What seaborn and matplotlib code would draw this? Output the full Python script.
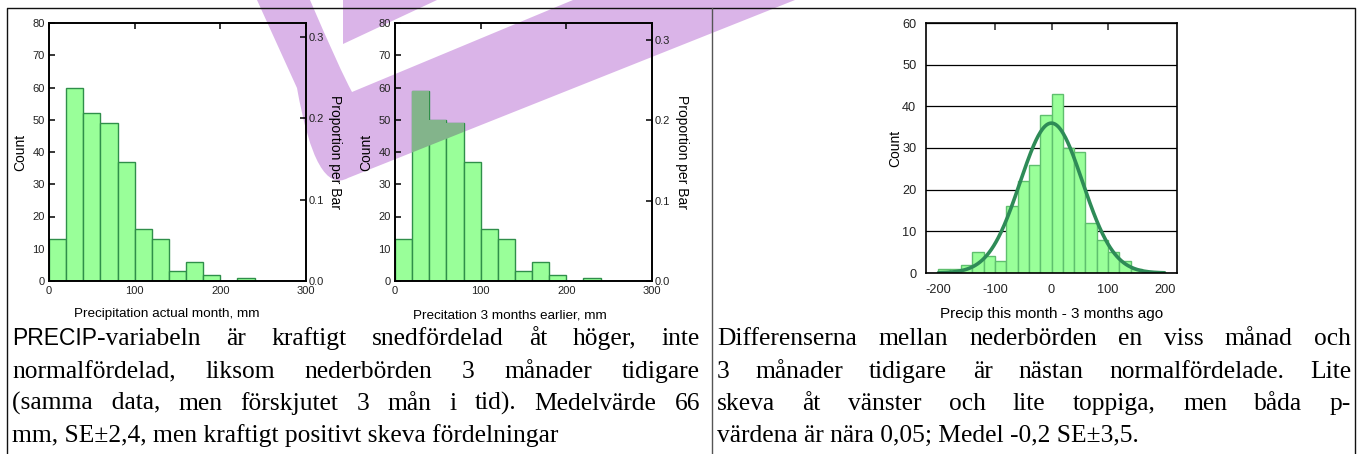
import numpy as np
import matplotlib
matplotlib.use("Agg")
import matplotlib.pyplot as plt
import seaborn as sns
from matplotlib.patches import PathPatch
from matplotlib.path import Path

# ---------------- data ----------------
precip_bin_edges = [0, 20, 40, 60, 80, 100, 120, 140, 160, 180, 200, 220, 240, 260, 280, 300]
precip_actual_counts = [13, 60, 52, 49, 37, 16, 13, 3, 6, 2, 0, 1, 0, 0, 0]
precip_earlier_counts = [13, 59, 50, 49, 37, 16, 13, 3, 6, 2, 0, 1, 0, 0, 0]

diff_bin_edges = [-200, -180, -160, -140, -120, -100, -80, -60, -40, -20, 0,
                  20, 40, 60, 80, 100, 120, 140, 160, 180, 200]
diff_counts = [1, 1, 2, 5, 4, 3, 16, 22, 26, 38, 43, 30, 29, 12, 8, 5, 3, 1, 0, 0]
diff_mean = -0.2
diff_se = 3.5

count_ticks_12 = [0, 10, 20, 30, 40, 50, 60, 70, 80]
prop_ticks = [0.0, 0.1, 0.2, 0.3]
prop_tick_labels = ["0.0", "0.1", "0.2", "0.3"]
precip_ticks = [0, 100, 200, 300]
diff_ticks = [-200, -100, 0, 100, 200]
diff_top_ticks = [-100, 0, 100]
count_ticks_3 = [0, 10, 20, 30, 40, 50, 60]

xlabel_1 = "Precipitation actual month, mm"
xlabel_2 = "Precitation 3 months earlier, mm"
xlabel_3 = "Precip this month - 3 months ago"
ylabel_count = "Count"
ylabel_prop = "Proportion per Bar"

left_prefix_sans = "PRECIP"
left_lines = [
    "-variabeln är kraftigt snedfördelad åt höger, inte",
    "normalfördelad, liksom nederbörden 3 månader tidigare",
    "(samma data, men förskjutet 3 mån i tid). Medelvärde 66",
]
left_last = "mm, SE±2,4, men kraftigt positivt skeva fördelningar"
right_lines = [
    "Differenserna mellan nederbörden en viss månad och",
    "3 månader tidigare är nästan normalfördelade. Lite",
    "skeva åt vänster och lite toppiga, men båda p-",
]
right_last = "värdena är nära 0,05; Medel -0,2 SE±3,5."

# ---------------- style ----------------
sns.set_theme(style="white")
SANS = "Liberation Sans"
SERIF = "Liberation Serif"
plt.rcParams["font.family"] = [SANS, "DejaVu Sans"]
plt.rcParams["text.color"] = "black"
plt.rcParams["axes.labelcolor"] = "black"
plt.rcParams["axes.unicode_minus"] = False

W, H = 1359, 454
FILL = "#99FF99"
EDGE_DARK = "#2F8F4A"
EDGE_LIGHT = "#5FBF6E"
CURVE = "#2E8B57"
WM = np.array([218, 180, 232]) / 255.0
TXT = "#222222"

fig = plt.figure(figsize=(W / 100, H / 100), dpi=100)
fig.patch.set_facecolor("white")

# background layer (watermark drawn beneath, emulating multiply blend)
bg = fig.add_axes([0, 0, 1, 1], zorder=0)
bg.set_xlim(0, W)
bg.set_ylim(H, 0)
bg.axis("off")

wm_verts = [(257, 0), (297, 88), (316, 196), (348, 178), (795, 0), (573, 0),
            (352, 92), (340, 70), (310, 0), (257, 0)]
wm_codes = [Path.MOVETO, Path.LINETO, Path.CURVE3, Path.CURVE3, Path.LINETO,
            Path.LINETO, Path.LINETO, Path.CURVE3, Path.CURVE3, Path.CLOSEPOLY]
wm_paths = [Path(wm_verts, wm_codes),
            Path([(343, 0), (437, 0), (343, 44), (343, 0)],
                 [Path.MOVETO, Path.LINETO, Path.LINETO, Path.CLOSEPOLY])]
for pth in wm_paths:
    bg.add_patch(PathPatch(pth, facecolor=WM, edgecolor="none"))


def px_axes(l, r, t, b):
    return [l / W, (H - b) / H, (r - l) / W, (b - t) / H]


def style_spines(ax):
    for s in ax.spines.values():
        s.set_visible(True)
        s.set_color("black")
        s.set_linewidth(1.2)


def draw_precip(ax, counts, xlab, lab_x, rlab_x, xlab_pos):
    mids = [(a + b) / 2 for a, b in zip(precip_bin_edges[:-1], precip_bin_edges[1:])]
    sns.histplot(x=mids, weights=counts, bins=precip_bin_edges, ax=ax,
                 color=FILL, edgecolor=EDGE_DARK, linewidth=1.0, alpha=1)
    ax.set_facecolor("none")
    ax.set_xlim(0, 300)
    ax.set_ylim(0, 80)
    ax.set_xticks(precip_ticks)
    ax.set_yticks(count_ticks_12)
    ax.tick_params(axis="both", direction="in", length=4, width=1.1, colors="black",
                   labelcolor=TXT, labelsize=8, pad=3)
    ax.tick_params(axis="x", top=True, pad=3.5)
    ax.set_xlabel(xlab, fontsize=9.7, color="black")
    ax.xaxis.set_label_coords(*xlab_pos)
    ax.set_ylabel(ylabel_count, fontsize=10, color="black")
    ax.yaxis.set_label_coords(lab_x, 0.5)
    style_spines(ax)
    n = sum(counts)
    ax2 = ax.twinx()
    ax2.set_ylim(0, 80 / n)
    ax2.set_yticks(prop_ticks)
    ax2.set_yticklabels(prop_tick_labels)
    ax2.tick_params(axis="y", direction="in", length=4, width=1.1, colors="black",
                    labelcolor=TXT, labelsize=8, pad=2)
    ax2.set_ylabel(ylabel_prop, fontsize=10, rotation=270, va="center", color="black")
    ax2.yaxis.set_label_coords(rlab_x, 0.5)
    style_spines(ax2)
    ax2.grid(False)
    return ax2


ax1 = fig.add_axes(px_axes(49, 306, 23, 281), zorder=1)
draw_precip(ax1, precip_actual_counts, xlabel_1, -0.086, 1.113, (0.457, -0.105))
ax2 = fig.add_axes(px_axes(395, 652, 23, 281), zorder=1)
draw_precip(ax2, precip_earlier_counts, xlabel_2, -0.086, 1.117, (0.447, -0.112))

# multiply-blend emulation of watermark over chart-2 bars
fc_mult = np.array(matplotlib.colors.to_rgb(FILL)) * WM
for bar in list(ax2.patches):
    for pth in wm_paths:
        p = PathPatch(pth, facecolor=fc_mult, edgecolor="none",
                      transform=bg.transData, zorder=bar.get_zorder() + 0.1)
        ax2.add_patch(p)
        p.set_clip_path(bar)

# chart 3
ax3 = fig.add_axes(px_axes(926, 1177, 23, 273), zorder=1)
ax3.set_facecolor("none")
ax3.set_axisbelow(True)
ax3.yaxis.grid(True, color="black", linewidth=0.9)
dmids = [(a + b) / 2 for a, b in zip(diff_bin_edges[:-1], diff_bin_edges[1:])]
sns.histplot(x=dmids, weights=diff_counts, bins=diff_bin_edges, ax=ax3,
             color=FILL, edgecolor=EDGE_LIGHT, linewidth=1.0, alpha=1)
n3 = sum(diff_counts)
binw = diff_bin_edges[1] - diff_bin_edges[0]
sd3 = diff_se * np.sqrt(n3)
xs = np.linspace(diff_bin_edges[0], diff_bin_edges[-1], 300)
ys = n3 * binw * np.exp(-0.5 * ((xs - diff_mean) / sd3) ** 2) / (sd3 * np.sqrt(2 * np.pi))
sns.lineplot(x=xs, y=ys, ax=ax3, color=CURVE, linewidth=2.6)
ax3.set_xlim(-222, 222)
ax3.set_ylim(0, 60)
ax3.set_xticks(diff_ticks)
ax3.set_yticks(count_ticks_3)
ax3.tick_params(axis="both", direction="out", length=5, width=1.1, colors="black",
                labelcolor=TXT, labelsize=9.2, pad=2)
ax3.tick_params(axis="x", pad=3)
ax3.set_xlabel(xlabel_3, fontsize=11, color="black")
ax3.xaxis.set_label_coords(0.5, -0.135)
ax3.set_ylabel(ylabel_count, fontsize=10, color="black")
ax3.yaxis.set_label_coords(-0.096, 0.5)
style_spines(ax3)
sec = ax3.secondary_xaxis("top")
sec.set_xticks(diff_top_ticks)
sec.tick_params(direction="in", length=5, width=1.1, labeltop=False)
sec.spines["top"].set_visible(False)

# overlay: frame lines and text
ov = fig.add_axes([0, 0, 1, 1], zorder=5)
ov.set_xlim(0, W)
ov.set_ylim(H, 0)
ov.axis("off")
ov.set_facecolor("none")
ov.plot([7, 1355], [8, 8], color="#111111", lw=1.0, solid_capstyle="butt")
ov.plot([7, 7], [8, H], color="#111111", lw=1.0)
ov.plot([712, 712], [8, H], color="#555555", lw=1.0)
ov.plot([1355, 1355], [8, H], color="#111111", lw=1.0)

renderer = fig.canvas.get_renderer()
FS = 18.4
FS_SANS = 16.5


def word_text(s, x, y):
    t = ov.text(x, y, s, fontsize=FS, family=SERIF, va="baseline", ha="left",
                color="black")
    return t, t.get_window_extent(renderer=renderer).width


def justified_words(line, x0, x1, y, group_first=False):
    """Place words as separate texts with equal gaps spanning x0..x1.
    With group_first, the first two words share one text object."""
    words = line.split(" ")
    objs = [word_text(w, x0, y) for w in words]
    gap = (x1 - x0 - sum(b for _, b in objs)) / (len(words) - 1)
    if group_first and len(words) > 2:
        goal = objs[0][1] + gap + objs[1][1]
        objs[0][0].remove()
        objs[1][0].remove()
        best = None
        for k in range(1, 10):
            t, bw = word_text(words[0] + " " * k + words[1], x0, y)
            err = abs(bw - goal)
            if best is None or err < best[0]:
                if best is not None:
                    best[1].remove()
                best = (err, t, bw)
            else:
                t.remove()
        objs = [(best[1], best[2])] + objs[2:]
        gap = (x1 - x0 - sum(b for _, b in objs)) / (len(objs) - 1)
    x = x0
    for t, bw in objs:
        t.set_x(x)
        x += bw + gap


baselines = [345, 378, 410, 442]
# left column
x0L, x1L = 12, 700
t_pre = ov.text(x0L, baselines[0], left_prefix_sans, fontsize=FS_SANS, family=SANS,
                va="baseline", ha="left", color="black")
wpre = t_pre.get_window_extent(renderer=renderer).width
for i, line in enumerate(left_lines):
    justified_words(line, x0L + (wpre if i == 0 else 0), x1L, baselines[i],
                    group_first=(i == 2))
ov.text(x0L, baselines[3], left_last, fontsize=FS, family=SERIF, va="baseline",
        ha="left", color="black")
# right column
x0R, x1R = 717, 1351
for i, line in enumerate(right_lines):
    justified_words(line, x0R, x1R, baselines[i])
ov.text(x0R, baselines[3], right_last, fontsize=FS, family=SERIF, va="baseline",
        ha="left", color="black")

fig.savefig("out.png", dpi=100)
